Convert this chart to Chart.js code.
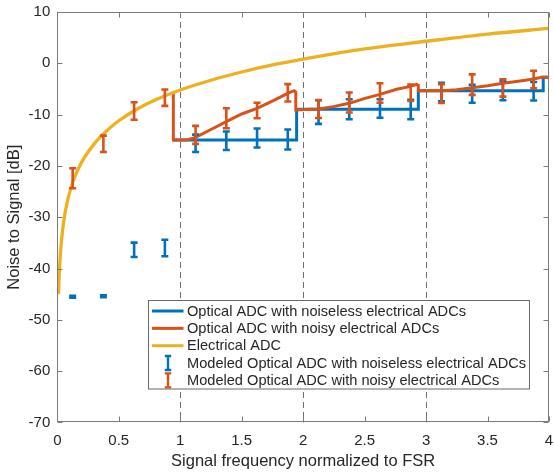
<!DOCTYPE html>
<html>
<head>
<meta charset="utf-8">
<script src="https://cdn.jsdelivr.net/npm/chart.js"></script>
<style>
  html, body { margin: 0; padding: 0; background: #fff; }
  #wrap { width: 554px; height: 473px; position: relative; }
</style>
</head>
<body>
<div id="wrap"><canvas id="chart"></canvas></div>
<script>
// Electrical ADC curve
const elecX = [0.0102, 0.015, 0.02, 0.03, 0.045, 0.06, 0.08, 0.1, 0.13, 0.17, 0.22, 0.3, 0.4, 0.5, 0.65, 0.8, 1.0, 1.25, 1.5, 1.75, 2.0, 2.5, 3.0, 3.5, 4.0];
const elecY = [-45.0, -41.7, -39.2, -35.7, -32.1, -29.6, -27.1, -25.2, -22.9, -20.6, -18.4, -15.7, -13.2, -11.2, -8.9, -7.1, -5.2, -3.3, -1.7, -0.3, 0.8, 2.8, 4.3, 5.7, 6.8];

// Optical ADC with noiseless electrical ADCs (step line)
const noiselessX = [0.94, 1.947, 1.947, 2.937, 2.937, 3.953, 3.953, 4.0];
const noiselessY = [-14.95, -14.95, -8.97, -8.97, -5.33, -5.33, -2.73, -2.73];

// Optical ADC with noisy electrical ADCs
const noisyX = [0.944, 0.944, 1.052, 1.126, 1.242, 1.375, 1.5, 1.625, 1.757, 1.874, 1.926, 1.94, 1.94,
  2.056, 2.125, 2.245, 2.375, 2.503, 2.625, 2.76, 2.875, 2.923, 2.937, 2.937,
  3.125, 3.249, 3.375, 3.501, 3.625, 3.75, 3.875, 3.94, 4.0];
const noisyY = [-5.85, -14.95, -14.95, -14.43, -13.0, -11.38, -9.88, -8.78, -7.28, -5.85, -5.33, -5.6, -9.1,
  -8.97, -8.9, -8.45, -7.8, -6.83, -6.05, -5.07, -4.5, -4.1, -4.3, -5.33,
  -5.33, -5.14, -4.75, -4.36, -3.9, -3.5, -3.06, -2.73, -2.73];

// Modeled points with error bars
const modelX = [0.125, 0.375, 0.625, 0.875, 1.125, 1.375, 1.625, 1.875, 2.125, 2.375, 2.625, 2.875, 3.125, 3.375, 3.625, 3.875];
const modelNoiselessY = [-45.5, -45.4, -36.35, -36.0, -15.6, -15.1, -14.55, -14.85, -9.5, -8.95, -8.8, -9.0, -5.6, -5.95, -5.3, -5.45];
const modelNoiselessErr = [0.2, 0.2, 1.4, 1.6, 1.7, 1.8, 1.85, 1.95, 2.3, 1.95, 1.8, 1.9, 1.8, 1.75, 1.9, 1.8];
const modelNoisyY = [-22.4, -15.7, -9.3, -6.7, -13.95, -10.7, -9.2, -5.75, -8.9, -7.65, -5.8, -5.75, -5.9, -4.15, -4.8, -3.15];
const modelNoisyErr = [1.95, 1.6, 1.7, 1.6, 1.75, 1.95, 1.5, 1.7, 1.75, 1.95, 1.9, 1.6, 1.85, 2.0, 1.7, 1.7];

const guideX = [1, 2, 3];
const xTicks = [0, 0.5, 1, 1.5, 2, 2.5, 3, 3.5, 4];
const yTicks = [-70, -60, -50, -40, -30, -20, -10, 0, 10];

const BLUE = '#0072BD';
const RED = '#D95319';
const YELLOW = '#EDB120';
const INK = '#262626';
const FONT = '"Liberation Sans", Arial, Helvetica, sans-serif';

const legendItems = [
  { label: 'Optical ADC with noiseless electrical ADCs', color: BLUE, kind: 'line' },
  { label: 'Optical ADC with noisy electrical ADCs', color: RED, kind: 'line' },
  { label: 'Electrical ADC', color: YELLOW, kind: 'line' },
  { label: 'Modeled Optical ADC with noiseless electrical ADCs', color: BLUE, kind: 'bar' },
  { label: 'Modeled Optical ADC with noisy electrical ADCs', color: RED, kind: 'bar' }
];

const toPoints = (xs, ys) => xs.map((v, i) => ({ x: v, y: ys[i] }));

function drawErrorBar(ctx, px, top, bottom, cap) {
  ctx.beginPath();
  ctx.moveTo(px, top); ctx.lineTo(px, bottom);
  ctx.moveTo(px - cap, top); ctx.lineTo(px + cap, top);
  ctx.moveTo(px - cap, bottom); ctx.lineTo(px + cap, bottom);
  ctx.stroke();
}

const guides = {
  id: 'guides',
  beforeDatasetsDraw(chart) {
    const { ctx, chartArea: a, scales: { x } } = chart;
    ctx.save();
    ctx.strokeStyle = '#707070';
    ctx.lineWidth = 1;
    ctx.setLineDash([6, 4]);
    guideX.forEach(v => {
      const px = Math.round(x.getPixelForValue(v)) + 0.5;
      ctx.beginPath();
      ctx.moveTo(px, a.top);
      ctx.lineTo(px, a.bottom);
      ctx.stroke();
    });
    ctx.restore();
  }
};

const errorBars = {
  id: 'errorBars',
  afterDatasetsDraw(chart) {
    const { ctx, scales: { x, y } } = chart;
    ctx.save();
    ctx.lineWidth = 2.6;
    ctx.lineCap = 'butt';
    [[modelNoiselessY, modelNoiselessErr, BLUE], [modelNoisyY, modelNoisyErr, RED]].forEach(([ys, errs, color]) => {
      ctx.strokeStyle = color;
      modelX.forEach((v, i) => {
        const px = x.getPixelForValue(v);
        drawErrorBar(ctx, px, y.getPixelForValue(ys[i] + errs[i]), y.getPixelForValue(ys[i] - errs[i]), 3.5);
      });
    });
    ctx.restore();
  }
};

const axesBox = {
  id: 'axesBox',
  afterDatasetsDraw(chart) {
    const { ctx, chartArea: a, scales: { x, y } } = chart;
    ctx.save();
    ctx.strokeStyle = '#7a7a7a';
    ctx.lineWidth = 1;
    const L = Math.round(a.left) + 0.5, R = Math.round(a.right) - 0.5;
    const T = Math.round(a.top) + 0.5, B = Math.round(a.bottom) - 0.5;
    ctx.strokeRect(L, T, R - L, B - T);
    ctx.beginPath();
    xTicks.forEach(v => {
      const px = Math.round(x.getPixelForValue(v)) + 0.5;
      ctx.moveTo(px, B); ctx.lineTo(px, B - 5);
      ctx.moveTo(px, T); ctx.lineTo(px, T + 5);
    });
    yTicks.forEach(v => {
      const py = Math.round(y.getPixelForValue(v)) + 0.5;
      ctx.moveTo(L, py); ctx.lineTo(L + 5, py);
      ctx.moveTo(R, py); ctx.lineTo(R - 5, py);
    });
    ctx.stroke();
    ctx.restore();
  }
};

const legendBox = {
  id: 'legendBox',
  afterDraw(chart) {
    const { ctx } = chart;
    const left = 148.5, top = 300.5, width = 381, height = 88.5;
    const rowTop = 311, rowStep = 17.35;
    ctx.save();
    ctx.fillStyle = '#fff';
    ctx.fillRect(left, top, width, height);
    ctx.strokeStyle = '#6a6a6a';
    ctx.lineWidth = 1;
    ctx.strokeRect(left, top, width, height);
    ctx.font = '14.6px ' + FONT;
    ctx.textBaseline = 'middle';
    ctx.textAlign = 'left';
    legendItems.forEach((item, i) => {
      const cy = rowTop + i * rowStep;
      ctx.strokeStyle = item.color;
      if (item.kind === 'line') {
        ctx.lineWidth = 3;
        ctx.beginPath();
        ctx.moveTo(152, cy); ctx.lineTo(183.5, cy);
        ctx.stroke();
      } else {
        ctx.lineWidth = 2.4;
        drawErrorBar(ctx, 168, cy - 7, cy + 7, 3.2);
      }
      ctx.fillStyle = INK;
      ctx.fillText(item.label, 187, cy + 0.5);
    });
    ctx.restore();
  }
};

new Chart(document.getElementById('chart'), {
  type: 'line',
  data: {
    datasets: [
      {
        label: 'Optical ADC with noiseless electrical ADCs',
        data: toPoints(noiselessX, noiselessY),
        borderColor: BLUE, borderWidth: 3, pointRadius: 0, tension: 0, order: 3
      },
      {
        label: 'Optical ADC with noisy electrical ADCs',
        data: toPoints(noisyX, noisyY),
        borderColor: RED, borderWidth: 3, pointRadius: 0, tension: 0, order: 2
      },
      {
        label: 'Electrical ADC',
        data: toPoints(elecX, elecY),
        borderColor: YELLOW, borderWidth: 3.3, pointRadius: 0,
        cubicInterpolationMode: 'monotone', order: 1
      }
    ]
  },
  options: {
    responsive: true,
    maintainAspectRatio: false,
    animation: false,
    layout: { padding: { left: 0, right: 5, top: 12, bottom: 0 } },
    plugins: { legend: { display: false }, tooltip: { enabled: false } },
    scales: {
      x: {
        type: 'linear', min: 0, max: 4,
        grid: { display: false, drawTicks: false },
        border: { display: false },
        afterFit: s => { s.height = 50.6; s.paddingLeft = 0; s.paddingRight = 0; },
        afterBuildTicks: s => { s.ticks = xTicks.map(v => ({ value: v })); },
        ticks: { color: INK, font: { family: FONT, size: 15 }, padding: 9, maxRotation: 0, autoSkip: false,
                 callback: v => String(v) },
        title: { display: true, text: 'Signal frequency normalized to FSR', color: INK,
                 font: { family: FONT, size: 16.5 }, padding: { top: 0, bottom: 2 } }
      },
      y: {
        min: -70, max: 10,
        grid: { display: false, drawTicks: false },
        border: { display: false },
        afterFit: s => { s.width = 57.3; s.paddingTop = 0; s.paddingBottom = 0; },
        afterBuildTicks: s => { s.ticks = yTicks.map(v => ({ value: v })); },
        ticks: { color: INK, font: { family: FONT, size: 15 }, padding: 7, autoSkip: false,
                 callback: v => String(v) },
        title: { display: true, text: 'Noise to Signal [dB]', color: INK,
                 font: { family: FONT, size: 16.5 }, padding: { top: 4.5, bottom: 0 } }
      }
    }
  },
  plugins: [guides, errorBars, axesBox, legendBox]
});
</script>
</body>
</html>
